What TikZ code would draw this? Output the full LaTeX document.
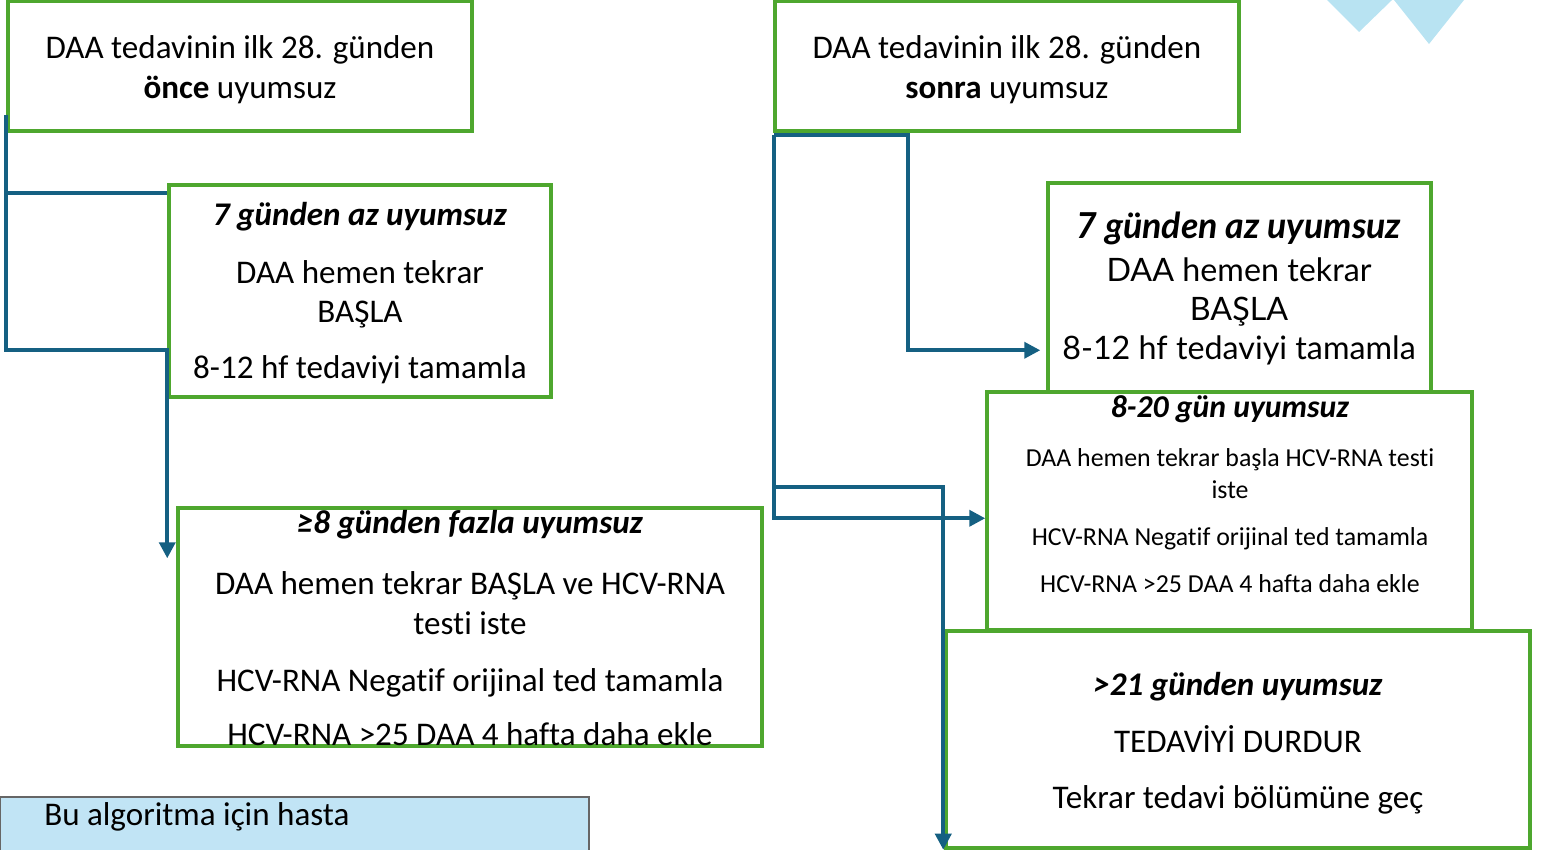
\documentclass[tikz,border=0pt]{standalone}
\usepackage{fontspec}
\setmainfont{Carlito}[Ligatures={NoCommon,NoContextual}]
\newfontfamily\aptos{Lato}[Ligatures={NoCommon,NoContextual}]
\usetikzlibrary{fit,arrows.meta,calc}
\definecolor{boxgreen}{HTML}{4EA72E}
\definecolor{connblue}{HTML}{156082}
\definecolor{lightblue}{HTML}{C1E4F5}
\definecolor{tricol}{HTML}{B8E3F2}
\newcommand\szA{\fontsize{24.8pt}{30pt}\selectfont}
\newcommand\szF{\fontsize{19.4pt}{24pt}\selectfont}
\newcommand\szFt{\fontsize{23.8pt}{28pt}\selectfont}
\newcommand\szE{\fontsize{24.2pt}{28pt}\selectfont}
\newcommand\szEt{\fontsize{26.8pt}{30pt}\selectfont}
\begin{document}
\begin{tikzpicture}[x=0.75pt,y=-0.75pt,
  box/.style={draw=boxgreen,line width=2.6pt,fill=white,inner sep=0pt},
  txt/.style={anchor=base,inner sep=0pt,font=\szA},
  ftxt/.style={anchor=base,inner sep=0pt,font=\szF},
  etxt/.style={anchor=base,inner sep=0pt,font=\aptos\szE},
  conn/.style={draw=connblue,line width=2.8pt},
  arr/.style={-{Triangle[length=12pt,width=12pt]}},
  tri/.style={fill=tricol}]
\useasboundingbox (0,0) rectangle (1543,850);
% decorative triangles
\fill[tri] (1327,0) -- (1392,0) -- (1359,32) -- cycle;
\fill[tri] (1394,0) -- (1464,0) -- (1429,44) -- cycle;
% boxes
\node[box, fit={(8,1) (472,131)}] (A) {};
\node[box, fit={(775,1) (1239,131)}] (B) {};
\node[box, fit={(169,185) (551,397)}] (C) {};
\node[box, fit={(178,508) (762,746)}] (D) {};
\node[box, fit={(1048,183) (1431,430)}] (E) {};
\node[box, fit={(987,392) (1472,630)}] (F) {};
\node[box, fit={(946,631) (1530,848)}] (G) {};
\node[draw=gray!80!black,line width=0.8pt,fill=lightblue,inner sep=0pt, fit={(0,797) (589,860)}] (H) {};
% texts
\node[txt] (a1) at (240,58) {DAA tedavinin ilk 28. günden};
\node[txt] (a2) at (240,98) {\textbf{önce} uyumsuz};
\node[txt] (b1) at (1007,58) {DAA tedavinin ilk 28. günden};
\node[txt] (b2) at (1007,98) {\textbf{sonra} uyumsuz};
\node[txt] (c1) at (360,225) {\textbf{\textit{7 günden az uyumsuz}}};
\node[txt] (c2) at (360,283) {DAA hemen tekrar};
\node[txt] (c3) at (360,322) {BAŞLA};
\node[txt] (c4) at (360,378) {8-12 hf tedaviyi tamamla};
\node[txt] (d1) at (470,533) {\textbf{\textit{≥8 günden fazla uyumsuz}}};
\node[txt] (d2) at (470,594) {DAA hemen tekrar BAŞLA ve HCV-RNA};
\node[txt] (d3) at (470,634) {testi iste};
\node[txt] (d4) at (470,691) {HCV-RNA Negatif orijinal ted tamamla};
\node[txt] (d5) at (470,745) {HCV-RNA >25 DAA 4 hafta daha ekle};
\node[etxt,font=\aptos\szEt] (e1) at (1239,238) {\textbf{\textit{7 günden az uyumsuz}}};
\node[etxt] (e2) at (1239,281) {DAA hemen tekrar};
\node[etxt] (e3) at (1239,320) {BAŞLA};
\node[etxt] (e4) at (1239,359) {8-12 hf tedaviyi tamamla};
\node[txt,font=\szFt] (f1) at (1230,417) {\textbf{\textit{8-20 gün uyumsuz}}};
\node[ftxt] (f2) at (1230,466) {DAA hemen tekrar başla HCV-RNA testi};
\node[ftxt] (f3) at (1230,498) {iste};
\node[ftxt] (f4) at (1230,545) {HCV-RNA Negatif orijinal ted tamamla};
\node[ftxt] (f5) at (1230,592) {HCV-RNA >25 DAA 4 hafta daha ekle};
\node[txt] (g1) at (1238,695) {\textbf{\textit{>21 günden uyumsuz}}};
\node[txt] (g2) at (1238,752) {TEDAVİYİ DURDUR};
\node[txt] (g3) at (1238,808) {Tekrar tedavi bölümüne geç};
\node[txt,anchor=base west] (h1) at (44,825) {Bu algoritma için hasta};
% connectors (left)
\coordinate (a0) at ($(A.south west)+(0,-18)$);
\coordinate (tipD) at ($(D.north west)+(-9,52)$);
\draw[conn] (a0) |- ($(C.north west)+(0,10)$);
\draw[conn,arr] (a0) |- ($(C.north west)+(0,167)$) -- (tipD);
% connectors (right)
\coordinate (b0) at ($(B.south west)+(1,2)$);
\coordinate (tipE) at ($(E.north west)+(-6,169)$);
\coordinate (tipG) at ($(G.south west)+(-1,0)$);
\draw[conn,arr] (b0) -| ($(E.north west)+(-138,169)$) -- (tipE);
\draw[conn,arr] (b0) |- ($(F.north west)+(0,128)$);
\draw[conn,arr] (b0) |- ($(G.north west)+(-1,-142)$) -- (tipG);
\end{tikzpicture}
\end{document}
